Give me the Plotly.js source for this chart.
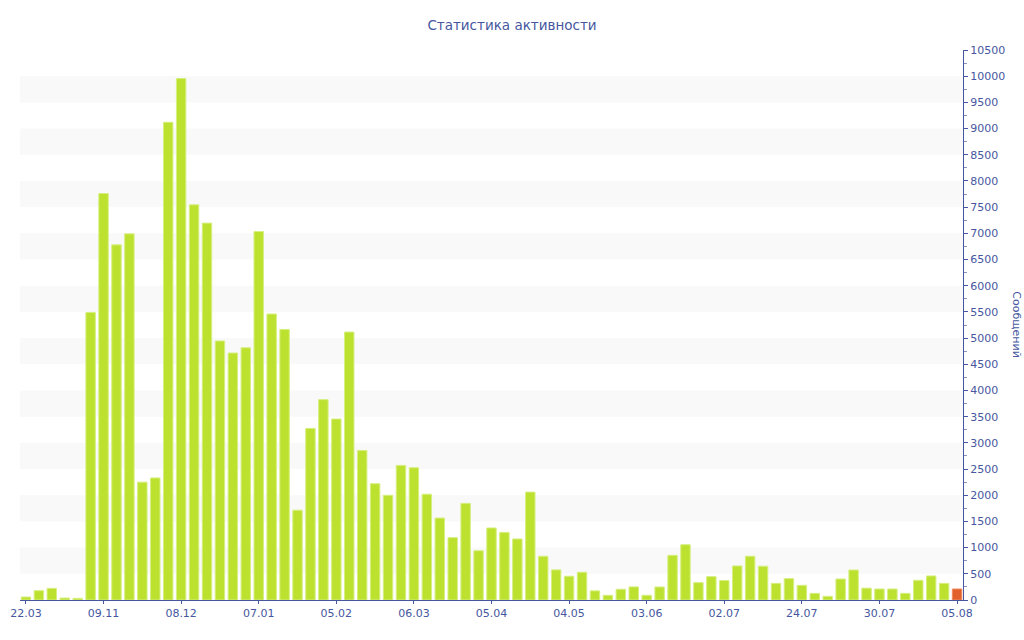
<!DOCTYPE html>
<html>
<head>
<meta charset="utf-8">
<script src="https://cdn.plot.ly/plotly-3.0.1.min.js"></script>
<style>html,body{margin:0;padding:0;background:#fff;}#chart{width:1024px;height:640px;}</style>
</head>
<body>
<div id="chart"></div>
<script>
// Messages per period (73 bars); the last one is the current (incomplete) period
const messages = [
  57, 178, 223, 38, 32, 5490, 7760, 6780, 6990, 2250,
  2330, 9120, 9955, 7545, 7195, 4945, 4715, 4815, 7035, 5460,
  5165, 1715, 3275, 3825, 3455, 5115, 2855, 2220, 2000, 2570,
  2525, 2020, 1565, 1190, 1845, 940, 1375, 1290, 1165, 2060,
  835, 575, 455, 530, 175, 90, 205, 250, 90, 248,
  853, 1055, 331, 446, 372, 650, 836, 645, 318, 408,
  280, 127, 70, 401, 573, 226, 210, 210, 127, 376,
  459, 318, 210
];
// Tick labels shown every 6th bar
const tickLabels = ["22.03","09.11","08.12","07.01","05.02","06.03","05.04","04.05","03.06","02.07","24.07","30.07","05.08"];
const labelStep = 6;
const bandValues = [500,1500,2500,3500,4500,5500,6500,7500,8500,9500];

const idx = messages.map((_, i) => i);
const colors = messages.map((_, i) => i === messages.length - 1 ? '#e2602c' : '#bce12f');
const lineColors = messages.map((_, i) => i === messages.length - 1 ? '#f08a5c' : '#d6ef80');
const tickvals = tickLabels.map((_, i) => i * labelStep);

const axisColor = '#4657a0';
const shapes = bandValues.map(v => ({
  type: 'rect', xref: 'paper', yref: 'y', x0: 0, x1: 1, y0: v, y1: v + 500,
  fillcolor: '#f9f9f9', line: {width: 0}, layer: 'below'
}));

const trace = {
  type: 'bar', x: idx, y: messages,
  marker: {color: colors, line: {color: lineColors, width: 1}},
  hoverinfo: 'y'
};

const layout = {
  width: 1024, height: 640,
  margin: {l: 20, r: 61, t: 50, b: 40},
  paper_bgcolor: '#ffffff', plot_bgcolor: 'rgba(0,0,0,0)',
  font: {family: 'DejaVu Sans, Verdana, sans-serif', color: axisColor, size: 11},
  title: {text: 'Статистика активности', x: 0.5, xanchor: 'center', y: 0.96, yanchor: 'middle',
          font: {size: 13.5, color: axisColor, family: 'DejaVu Sans, Verdana, sans-serif'}},
  bargap: 0.27,
  showlegend: false,
  shapes: shapes,
  xaxis: {
    range: [-0.46, messages.length - 0.54],
    tickmode: 'array', tickvals: tickvals, ticktext: tickLabels,
    showgrid: false, zeroline: false,
    showline: true, linecolor: axisColor, linewidth: 1,
    ticks: 'outside', ticklen: 3, tickcolor: axisColor,
    tickfont: {size: 11, color: axisColor}
  },
  yaxis: {
    side: 'right', range: [0, 10500], dtick: 500, tick0: 0, tickformat: 'd',
    showgrid: false, zeroline: false,
    showline: true, linecolor: axisColor, linewidth: 1,
    ticks: 'outside', ticklen: 4, tickcolor: axisColor,
    tickfont: {size: 11, color: axisColor},
    minor: {dtick: 250, ticks: 'outside', ticklen: 3, tickcolor: '#8a93bf', showgrid: false}
  },
  annotations: [{
    text: 'Сообщений', xref: 'paper', yref: 'paper', x: 1.057, y: 0.5,
    xanchor: 'center', yanchor: 'middle', textangle: 90, showarrow: false,
    font: {size: 11, color: axisColor}
  }]
};

Plotly.newPlot('chart', [trace], layout, {displayModeBar: false, staticPlot: true});
</script>
</body>
</html>
